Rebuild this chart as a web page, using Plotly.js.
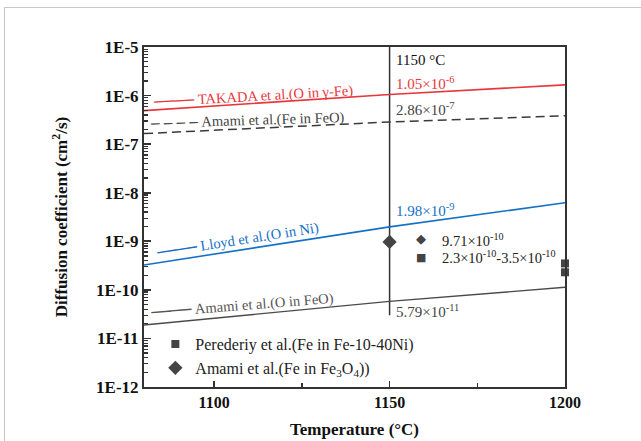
<!DOCTYPE html>
<html>
<head>
<meta charset="utf-8">
<script src="https://cdn.plot.ly/plotly-3.0.1.min.js"></script>
<style>
  html, body { margin: 0; padding: 0; background: #fff; }
  #frame { position: absolute; left: 4px; top: 7px; width: 700px; height: 500px;
           border-left: 1px solid #c8c8c8; border-top: 1px solid #c8c8c8; }
  #chart { position: absolute; left: 0; top: 0; width: 641px; height: 441px; }
</style>
</head>
<body>
<div id="frame"></div>
<div id="chart"></div>
<script>
// Temperatures (°C) at which line values were read
const temps = [1080, 1150, 1200];
// Diffusion coefficients (cm^2/s)
const takadaOinGammaFe = [4.9e-7, 1.05e-6, 1.66e-6];
const amamiFeInFeO     = [1.65e-7, 2.86e-7, 3.85e-7];
const lloydOinNi       = [3.25e-10, 1.98e-9, 6.22e-9];
const amamiOinFeO      = [1.89e-11, 5.79e-11, 1.13e-10];
// Point data
const amamiFe3O4T = [1150];
const amamiFe3O4D = [9.71e-10];
const perederiyT = [1200, 1200];
const perederiyD = [2.3e-10, 3.5e-10];
// Reference isotherm
const isoT = [1150, 1150];
const isoD = [1e-5, 3e-11];
// Tick labels
const yTickVals = [1e-12, 1e-11, 1e-10, 1e-9, 1e-8, 1e-7, 1e-6, 1e-5];
const yTickText = ['1E-12', '1E-11', '1E-10', '1E-9', '1E-8', '1E-7', '1E-6', '1E-5'];
const xTickVals = [1100, 1150, 1200];
const xMinorVals = [1125, 1175];

// log minor tick positions (2..9 within each decade)
const yMinorVals = [];
for (let e = -12; e < -5; e++) for (let m = 2; m <= 9; m++) yMinorVals.push(m * Math.pow(10, e));

const RED = '#e8363b', BLUE = '#1670c8', DGRAY = '#3a3a3a', GRAY = '#4a4a4a';
const serif = 'Liberation Serif, Times New Roman, serif';

const traces = [
  {x: isoT, y: isoD, mode: 'lines', line: {color: '#333', width: 1.5}, showlegend: false, hoverinfo: 'skip'},
  {x: temps, y: takadaOinGammaFe, mode: 'lines', line: {color: RED, width: 1.6}, showlegend: false},
  {x: temps, y: amamiFeInFeO, mode: 'lines', line: {color: DGRAY, width: 1.5, dash: '9px,5px'}, showlegend: false},
  {x: temps, y: lloydOinNi, mode: 'lines', line: {color: BLUE, width: 1.6}, showlegend: false},
  {x: temps, y: amamiOinFeO, mode: 'lines', line: {color: GRAY, width: 1.4}, showlegend: false},
  {x: perederiyT, y: perederiyD, mode: 'markers', name: 'Perederiy et al.(Fe in Fe-10-40Ni)',
   marker: {symbol: 'square', size: 8, color: '#444'}, cliponaxis: false},
  {x: amamiFe3O4T, y: amamiFe3O4D, mode: 'markers', name: 'Amami et al.(Fe in Fe<sub>3</sub>O<sub>4</sub>))',
   marker: {symbol: 'diamond', size: 11, color: '#444'}, cliponaxis: false}
];

function ann(x, y, text, color, extra) {
  return Object.assign({x: x, y: y, xref: 'x', yref: 'y', text: text, showarrow: false,
    font: {family: serif, size: 14, color: color}}, extra || {});
}
const seg = '<b><span style="font-size:20px">——</span></b>&nbsp;';
const dseg = '<b><span style="font-size:17px">–&nbsp;–&nbsp;–&nbsp;–</span></b>&nbsp;';

const annotations = [
  ann(1150, -5.27, '1150 °C', '#111', {xanchor: 'left', xshift: 4, font: {family: serif, size: 15, color: '#111'}}),
  ann(1150, -5.74, '1.05×10<sup>-6</sup>', RED, {xanchor: 'left', xshift: 4, font: {family: serif, size: 15, color: RED}}),
  ann(1150, -6.27, '2.86×10<sup>-7</sup>', '#444', {xanchor: 'left', xshift: 4, font: {family: serif, size: 15, color: '#444'}}),
  ann(1150, -8.36, '1.98×10<sup>-9</sup>', BLUE, {xanchor: 'left', xshift: 4, font: {family: serif, size: 15, color: BLUE}}),
  ann(1150, -10.44, '5.79×10<sup>-11</sup>', '#444', {xanchor: 'left', xshift: 4, font: {family: serif, size: 15, color: '#444'}}),
  ann(1158.9, -8.95, '◆', '#444', {font: {family: 'DejaVu Sans', size: 13, color: '#444'}}),
  ann(1164.3, -8.97, '9.71×10<sup>-10</sup>', '#222', {xanchor: 'left', font: {family: serif, size: 14.5, color: '#222'}}),
  ann(1158.9, -9.34, '■', '#444', {font: {family: 'DejaVu Sans', size: 11, color: '#444'}}),
  ann(1164.3, -9.33, '2.3×10<sup>-10</sup>-3.5×10<sup>-10</sup>', '#222', {xanchor: 'left', font: {family: serif, size: 14.5, color: '#222'}}),
  ann(1111, -5.97, seg + 'TAKADA et al.(O in γ-Fe)', RED, {textangle: -3.4, font: {family: serif, size: 14.5, color: RED}}),
  ann(1109.5, -6.5, dseg + 'Amami et al.(Fe in FeO)', '#444', {textangle: -1.8, font: {family: serif, size: 14.5, color: '#444'}}),
  ann(1106.5, -8.93, seg + 'Lloyd et al.(O in Ni)', BLUE, {textangle: -9, font: {family: serif, size: 14.5, color: BLUE}}),
  ann(1108, -10.27, seg + 'Amami et al.(O in FeO)', '#555', {textangle: -4.5, font: {family: serif, size: 14.5, color: '#555'}})
];

const layout = {
  width: 641, height: 441,
  margin: {l: 144, r: 76, t: 47, b: 54},
  paper_bgcolor: 'rgba(0,0,0,0)', plot_bgcolor: 'rgba(0,0,0,0)',
  font: {family: serif, color: '#111'},
  showlegend: true,
  legend: {x: 0.027, y: 0.176, xanchor: 'left', yanchor: 'top', bgcolor: 'rgba(0,0,0,0)',
           font: {family: serif, size: 16, color: '#222'}, tracegroupgap: 0},
  xaxis: {
    range: [1080, 1200], tickmode: 'array', tickvals: xTickVals,
    ticks: 'inside', ticklen: 6, tickwidth: 1.5, tickcolor: '#333',
    showline: true, linecolor: '#333', linewidth: 2, mirror: true,
    showgrid: false, zeroline: false,
    minor: {tickmode: 'array', tickvals: xMinorVals, ticks: 'inside', ticklen: 4, tickwidth: 1.5, tickcolor: '#333'},
    tickfont: {family: serif, size: 16, color: '#111', weight: 'bold'},
    title: {text: '<b>Temperature (°C)</b>', font: {family: serif, size: 17, color: '#111'}, standoff: 13}
  },
  yaxis: {
    type: 'log', range: [-12, -5], tickmode: 'array', tickvals: yTickVals, ticktext: yTickText,
    ticks: 'inside', ticklen: 7, tickwidth: 1.6, tickcolor: '#333',
    showline: true, linecolor: '#333', linewidth: 2, mirror: true,
    showgrid: false, zeroline: false,
    minor: {tickmode: 'array', tickvals: yMinorVals, ticks: 'inside', ticklen: 4, tickwidth: 1.2, tickcolor: '#333', showgrid: false},
    tickfont: {family: serif, size: 17, color: '#111', weight: 'bold'},
    title: {text: '<b>Diffusion coefficient (cm<sup>2</sup>/s)</b>', font: {family: serif, size: 17, color: '#111'}, standoff: 24}
  },
  annotations: annotations
};

Plotly.newPlot('chart', traces, layout, {displayModeBar: false, staticPlot: true});
</script>
</body>
</html>
